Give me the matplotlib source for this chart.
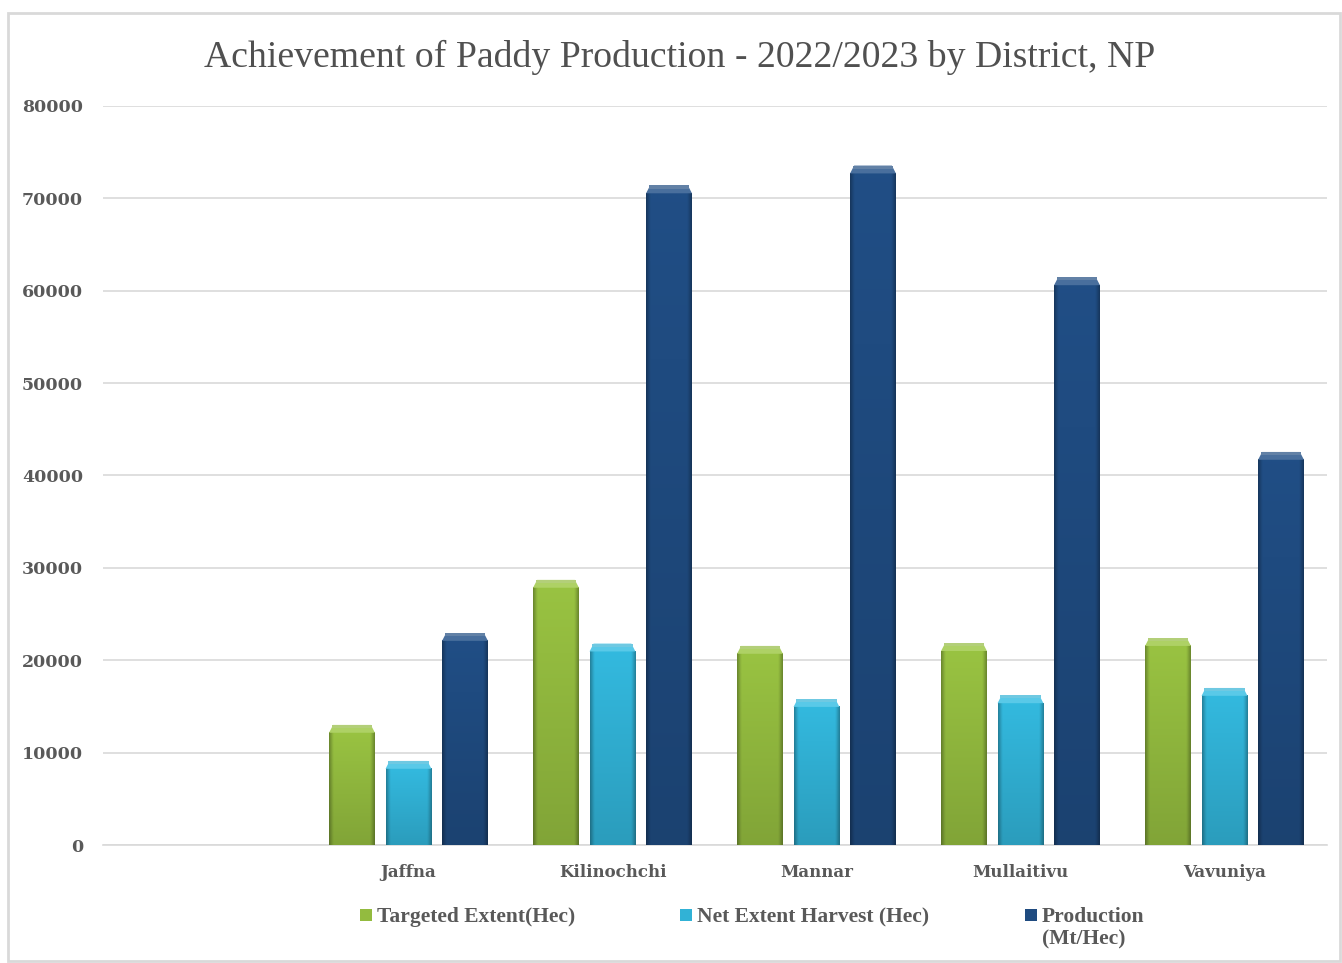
import numpy as np
import matplotlib
matplotlib.use("Agg")
import matplotlib.pyplot as plt
from matplotlib.patches import Rectangle, Polygon
from matplotlib.colors import to_rgb

# ---- data ----
districts = ["Jaffna", "Kilinochchi", "Mannar", "Mullaitivu", "Vavuniya"]
targeted_extent = [13000, 28700, 21550, 21850, 22400]
net_extent_harvest = [9100, 21800, 15800, 16200, 17000]
production = [22950, 71400, 73550, 61450, 42550]
series_labels = ["Targeted Extent(Hec)", "Net Extent Harvest (Hec)", "Production\n(Mt/Hec)"]
yticks = [0, 10000, 20000, 30000, 40000, 50000, 60000, 70000, 80000]
title = "Achievement of Paddy Production - 2022/2023 by District, NP"

colors = ["#93bb3f", "#31b2d6", "#1f4b80"]
text_color = "#595959"

W, H = 1342, 963
fig = plt.figure(figsize=(W / 100, H / 100), dpi=100)
fig.patch.set_facecolor("white")

# chart border
fig.patches.append(Rectangle((8 / W, 1 - 961 / H), (1340 - 8) / W, (961 - 13) / H,
                             transform=fig.transFigure, fill=False,
                             edgecolor="#d9d9d9", linewidth=2))

ax = fig.add_axes([102.5 / W, 1 - 845 / H, 1224 / W, (845 - 106) / H])
ax.set_facecolor("white")

n_cat = len(districts) + 1  # first category slot is empty in the original
positions = np.arange(1, n_cat)
step = 0.277
bw = 0.225
bevel = 850
inset = 0.02


def draw_bar(xc, h, color):
    base = np.array(to_rgb(color))
    x0 = xc - bw / 2
    body_h = h - bevel
    ny, nx = 64, 40
    t = np.linspace(0, 1, nx)
    edge = np.minimum(t, 1 - t)
    hfac = 0.72 + 0.28 * np.clip(edge / 0.09, 0, 1)
    v = np.linspace(0, 1, ny)[:, None]  # 0 bottom -> 1 top
    vfac = 0.88 + 0.16 * v
    img = base[None, None, :] * (vfac * hfac[None, :])[:, :, None]
    img = np.clip(img, 0, 1)
    ax.imshow(img, extent=[x0, x0 + bw, 0, body_h], origin="lower",
              aspect="auto", interpolation="bilinear", zorder=3)
    light = np.clip(base * 1.05 + (1 - base) * 0.18, 0, 1)
    ax.add_patch(Polygon([[x0, body_h], [x0 + bw, body_h],
                          [x0 + bw - inset, h], [x0 + inset, h]],
                         closed=True, facecolor=light, edgecolor="none", zorder=3))
    ax.add_patch(Rectangle((x0 + inset * 0.7, h - bevel * 0.4), bw - 1.4 * inset, bevel * 0.4,
                           facecolor=np.clip(base + (1 - base) * 0.3, 0, 1),
                           edgecolor="none", zorder=3))


all_series = [targeted_extent, net_extent_harvest, production]
for si, (vals, col) in enumerate(zip(all_series, colors)):
    for xi, v in zip(positions, vals):
        draw_bar(xi + (si - 1) * step, v, col)

ax.set_xlim(-0.5, n_cat - 0.5)
ax.set_ylim(0, 80000)
ax.set_yticks(yticks)
ax.set_yticklabels([str(t) for t in yticks])
ax.set_xticks(positions)
ax.set_xticklabels(districts)
ax.grid(axis="y", color="#d9d9d9", linewidth=1.2, zorder=0)
ax.set_axisbelow(True)
for s in ["top", "right", "left"]:
    ax.spines[s].set_visible(False)
ax.spines["bottom"].set_color("#d9d9d9")
ax.spines["bottom"].set_linewidth(1.2)
ax.tick_params(length=0)
ax.tick_params(axis="y", pad=14)
ax.tick_params(axis="x", pad=14)
for lab in ax.get_yticklabels() + ax.get_xticklabels():
    lab.set_fontfamily("DejaVu Serif")
    lab.set_fontweight("bold")
    lab.set_fontsize(12.5)
    lab.set_color(text_color)
for lab in ax.get_xticklabels():
    lab.set_fontsize(12)

fig.text(680 / W, 1 - 57 / H, title, ha="center", va="center",
         fontfamily="Liberation Serif", fontsize=27.2, color="#505050")

# legend
leg_marker_x = [360, 680, 1025]
for lx, lab, col in zip(leg_marker_x, series_labels, colors):
    fig.patches.append(Rectangle((lx / W, 1 - 921 / H), 12 / W, 12 / H,
                                 transform=fig.transFigure, facecolor=col,
                                 edgecolor="none"))
    fig.text((lx + 17) / W, 1 - 922 / H, lab.split("\n")[0], ha="left", va="baseline",
             fontfamily="Liberation Serif", fontweight="bold", fontsize=15.5,
             color=text_color)
    if "\n" in lab:
        fig.text((lx + 17) / W, 1 - 944 / H, lab.split("\n")[1], ha="left", va="baseline",
                 fontfamily="Liberation Serif", fontweight="bold", fontsize=15.5,
                 color=text_color)

fig.savefig("out.png", dpi=100)
